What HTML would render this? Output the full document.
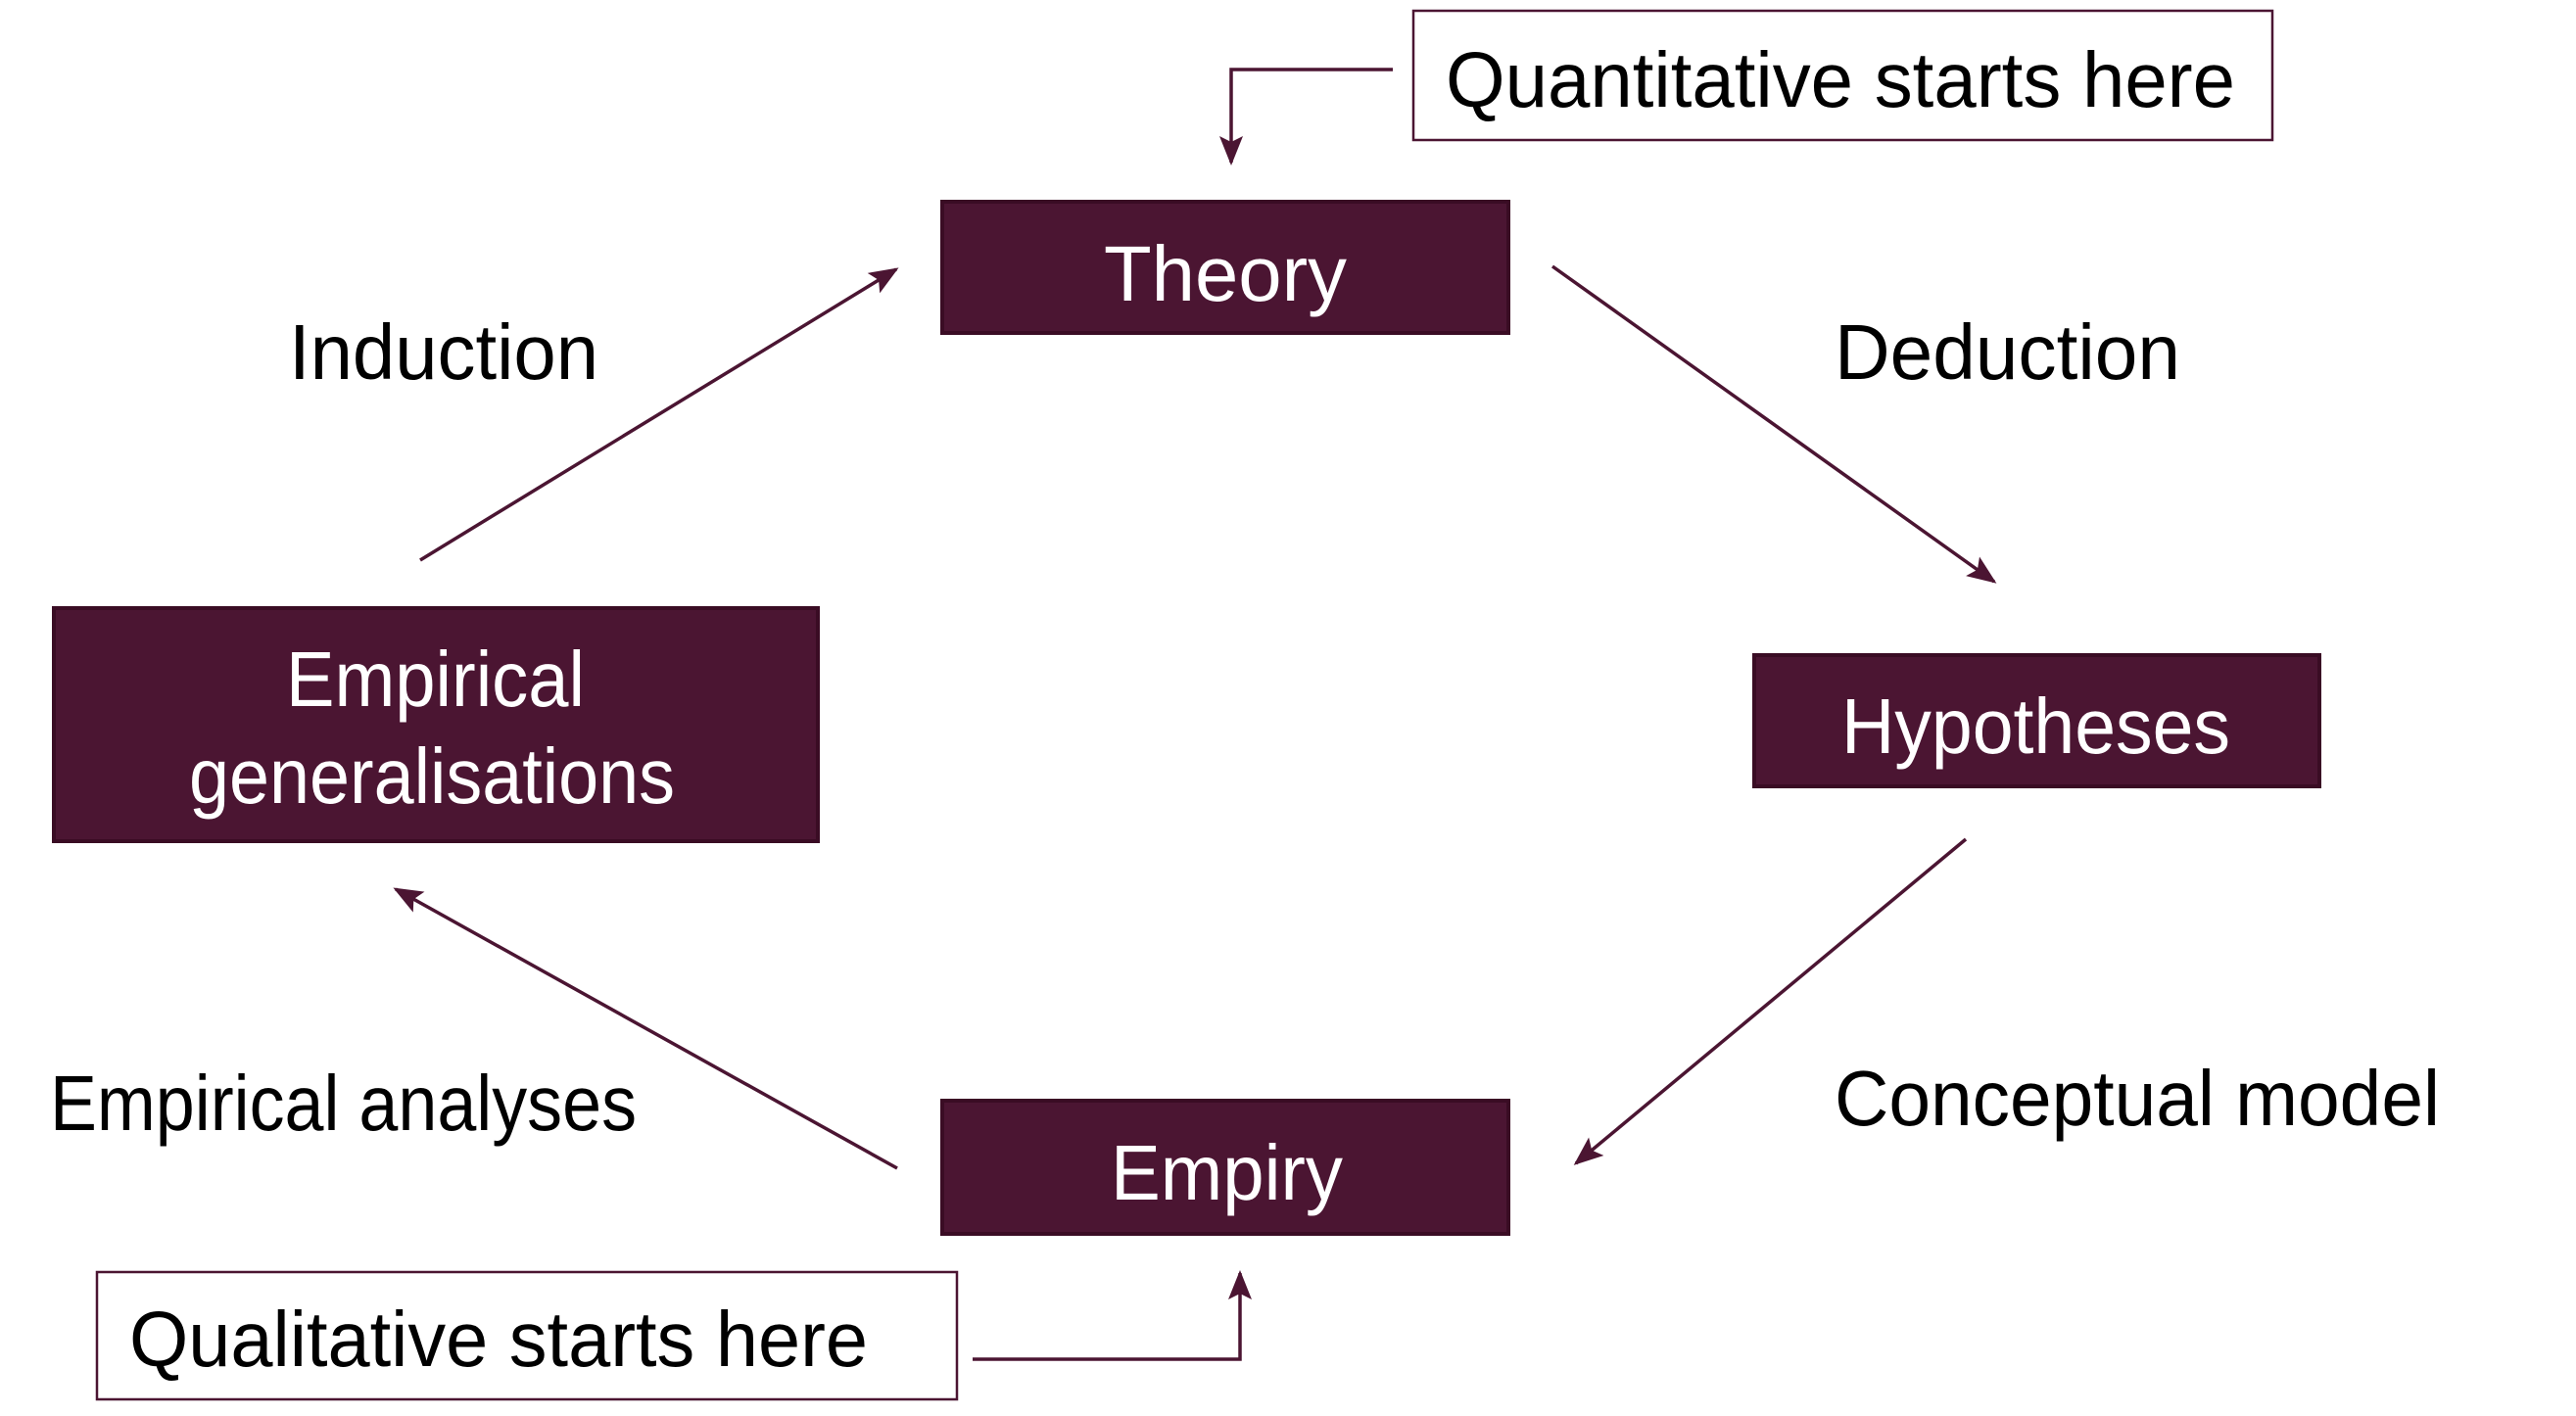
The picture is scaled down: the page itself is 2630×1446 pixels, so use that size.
<!DOCTYPE html>
<html><head><meta charset="utf-8"><style>html,body{margin:0;padding:0;background:#fff}svg{display:block}</style></head>
<body>
<svg width="2630" height="1446" viewBox="0 0 2630 1446" xmlns="http://www.w3.org/2000/svg">
<defs>
<marker id="a" markerWidth="10" markerHeight="10" refX="9" refY="5" orient="auto" markerUnits="userSpaceOnUse" viewBox="0 0 10 10">
</marker>
<marker id="ah" viewBox="0 0 10 10" refX="9" refY="5" markerWidth="30" markerHeight="30" markerUnits="userSpaceOnUse" orient="auto"><path d="M0,1 L10,5 L0,9 L2,5 z" fill="#4b1532"/></marker>
</defs>
<g fill="#4b1532" stroke="#3a0c24" stroke-width="4">
<rect x="962" y="206" width="578" height="134"/>
<rect x="1791" y="669" width="577" height="134"/>
<rect x="962" y="1124" width="578" height="136"/>
<rect x="55" y="621" width="780" height="238"/>
</g>
<g fill="none" stroke="#4b1532" stroke-width="2.5">
<rect x="1443" y="11" width="877" height="132"/>
<rect x="99" y="1299" width="878" height="130"/>
</g>
<g fill="none" stroke="#4b1532" stroke-width="3.5" marker-end="url(#ah)">
<polyline points="1422,71 1257,71 1257,166"/>
<line x1="1585" y1="272" x2="2036" y2="594"/>
<line x1="2007" y1="857" x2="1609" y2="1188"/>
<line x1="916" y1="1193" x2="404" y2="908"/>
<line x1="429" y1="572" x2="915" y2="275"/>
<polyline points="993,1388 1266,1388 1266,1300"/>
</g>
<g font-family="Liberation Sans, sans-serif" font-size="80" lengthAdjust="spacingAndGlyphs">
<text x="1476" y="109" textLength="806" lengthAdjust="spacingAndGlyphs" fill="#000">Quantitative starts here</text>
<text x="1127" y="307" textLength="248" lengthAdjust="spacingAndGlyphs" fill="#fff">Theory</text>
<text x="1873" y="387" textLength="353" lengthAdjust="spacingAndGlyphs" fill="#000">Deduction</text>
<text x="295" y="387" textLength="316" lengthAdjust="spacingAndGlyphs" fill="#000">Induction</text>
<text x="292" y="721" textLength="305" lengthAdjust="spacingAndGlyphs" fill="#fff">Empirical</text>
<text x="193" y="820" textLength="496" lengthAdjust="spacingAndGlyphs" fill="#fff">generalisations</text>
<text x="1880" y="769" textLength="397" lengthAdjust="spacingAndGlyphs" fill="#fff">Hypotheses</text>
<text x="1873" y="1149" textLength="618" lengthAdjust="spacingAndGlyphs" fill="#000">Conceptual model</text>
<text x="51" y="1154" textLength="599" lengthAdjust="spacingAndGlyphs" fill="#000">Empirical analyses</text>
<text x="1134" y="1225" textLength="237" lengthAdjust="spacingAndGlyphs" fill="#fff">Empiry</text>
<text x="132" y="1395" textLength="754" lengthAdjust="spacingAndGlyphs" fill="#000">Qualitative starts here</text>
</g>
</svg>
</body></html>
